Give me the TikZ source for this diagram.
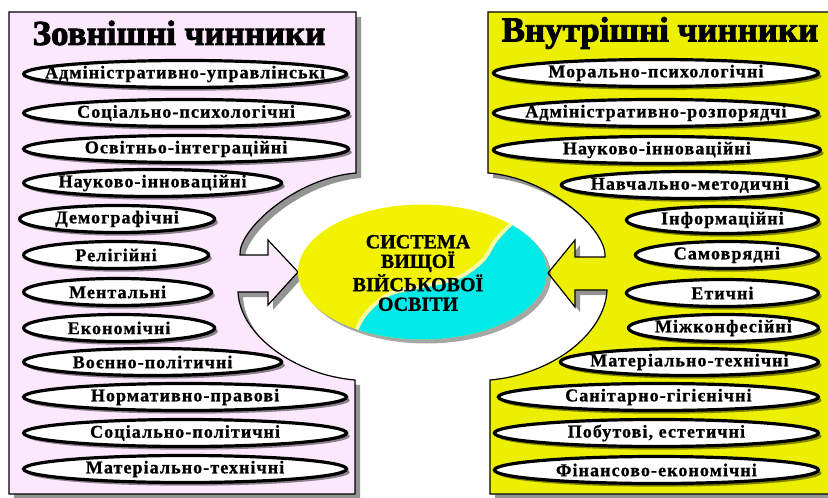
\documentclass[tikz,border=0pt]{standalone}
\usepackage{fontspec}
\setmainfont{Liberation Serif}
\newfontfamily\factorfont[LetterSpace=6, BoldFeatures={FakeBold=1}]{Liberation Serif}
\newfontfamily\headfont[BoldFeatures={FakeBold=2.5}]{Liberation Serif}
\newfontfamily\corefont[BoldFeatures={FakeBold=1}]{Liberation Serif}
\usetikzlibrary{shapes.geometric,shadows}
\definecolor{pinkpanel}{RGB}{252,232,252}
\definecolor{yellowpanel}{RGB}{236,240,0}
\definecolor{coreyellow}{RGB}{242,242,0}
\definecolor{corecyan}{RGB}{0,234,234}
\begin{document}
\begin{tikzpicture}[x=0.5pt,y=-0.5pt,
    panel/.style={draw=black, line width=0.6pt,
      drop shadow={shadow xshift=2.5pt, shadow yshift=-2.5pt, fill=black!60, opacity=0.7}},
    factor/.style={ellipse, draw=black, line width=1.6pt, fill=white, inner sep=0pt,
      minimum height=13.5pt, font=\factorfont\bfseries\fontsize{9}{10}\selectfont,
      drop shadow={shadow xshift=1.6pt, shadow yshift=-1.6pt, fill=black, opacity=0.45},
      execute at begin node={\hbox to 0pt\bgroup\hss}, execute at end node={\hss\egroup}},
    heading/.style={font=\headfont\bfseries\fontsize{17.5}{19}\selectfont},
    core/.style={ellipse, fill=coreyellow, inner sep=0pt, minimum width=124.5pt, minimum height=67.5pt,
      drop shadow={shadow xshift=2pt, shadow yshift=-2pt, fill=black, opacity=0.35}}]
\useasboundingbox (0,0) rectangle (828,497);

\path[panel, fill=pinkpanel] (9,12) -- (356,12) -- (356,173) .. controls (295,178) and (238,230) .. (240,255)
  -- (268,255) -- (268,240) -- (298,272) -- (268,305) -- (268,292) -- (238,292)
  .. controls (240,335) and (295,375) .. (355,380) -- (355,494) -- (9,494) -- cycle;
\path[panel, fill=yellowpanel] (834,12) -- (488,12) -- (488,173) .. controls (550,178) and (607,230) .. (605,257)
  -- (575,257) -- (575,240) -- (548,273) -- (575,307) -- (575,290) -- (607,290)
  .. controls (605,335) and (550,375) .. (490,380) -- (490,494) -- (834,494) -- cycle;

\node[heading] (outer) at (179,33) {Зовнішні чинники};
\node[heading] (inner) at (660,33) {Внутрішні чинники};

\node[factor, anchor=west, minimum width=161.5pt] (l1) at (22,74) {Адміністративно-управлінські};
\node[factor, anchor=west, minimum width=162.5pt] (l2) at (22,113) {Соціально-психологічні};
\node[factor, anchor=west, minimum width=162.5pt] (l3) at (22,149) {Освітньо-інтеграційні};
\node[factor, anchor=west, minimum width=129pt] (l4) at (22,183) {Науково-інноваційні};
\node[factor, anchor=west, minimum width=97.5pt] (l5) at (18,219) {Демографічні};
\node[factor, anchor=west, minimum width=92.5pt] (l6) at (22,255) {Релігійні};
\node[factor, anchor=west, minimum width=94pt] (l7) at (22,292) {Ментальні};
\node[factor, anchor=west, minimum width=95.5pt] (l8) at (22,328) {Економічні};
\node[factor, anchor=west, minimum width=129pt] (l9) at (22,362) {Воєнно-політичні};
\node[factor, anchor=west, minimum width=161.5pt] (l10) at (22,397) {Нормативно-правові};
\node[factor, anchor=west, minimum width=161.5pt] (l11) at (22,433) {Соціально-політичні};
\node[factor, anchor=west, minimum width=161.5pt] (l12) at (22,469) {Матеріально-технічні};

\node[factor, anchor=east, minimum width=162.5pt] (r1) at (820,73) {Морально-психологічні};
\node[factor, anchor=east, minimum width=162.5pt] (r2) at (820,113) {Адміністративно-розпорядчі};
\node[factor, anchor=east, minimum width=163.5pt] (r3) at (822,150) {Науково-інноваційні};
\node[factor, anchor=east, minimum width=128.5pt] (r4) at (820,185) {Навчально-методичні};
\node[factor, anchor=east, minimum width=96pt] (r5) at (820,220) {Інформаційні};
\node[factor, anchor=east, minimum width=91.5pt] (r6) at (820,255) {Самоврядні};
\node[factor, anchor=east, minimum width=96pt] (r7) at (820,293) {Етичні};
\node[factor, anchor=east, minimum width=95pt] (r8) at (820,328) {Міжконфесійні};
\node[factor, anchor=east, minimum width=129pt] (r9) at (820,362) {Матеріально-технічні};
\node[factor, anchor=east, minimum width=160pt] (r10) at (820,397) {Санітарно-гігієнічні};
\node[factor, anchor=east, minimum width=162pt] (r11) at (820,433) {Побутові, естетичні};
\node[factor, anchor=east, minimum width=162pt] (r12) at (820,470) {Фінансово-економічні};

\node[core] (sys) at (422.5,272) {};
\begin{scope}
  \clip (sys.center) ellipse [x radius=62.25pt, y radius=33.75pt];
  \draw[line width=4pt, coreyellow!35!white] plot[smooth] coordinates {(535,210) (512,226) (497,242) (484,262) (458,280) (418,289) (388,297) (365,318) (350,350)};
  \fill[corecyan] plot[smooth] coordinates {(535,210) (512,226) (497,242) (484,262) (458,280) (418,289) (388,297) (365,318) (350,350)}
    -- (570,360) -- (570,200) -- cycle;
\end{scope}
\node[align=center, font=\corefont\bfseries\fontsize{10}{9.8}\selectfont] (systext) at (418,273) {СИСТЕМА\\ВИЩОЇ\\ВІЙСЬКОВОЇ\\ОСВІТИ};
\end{tikzpicture}
\end{document}
